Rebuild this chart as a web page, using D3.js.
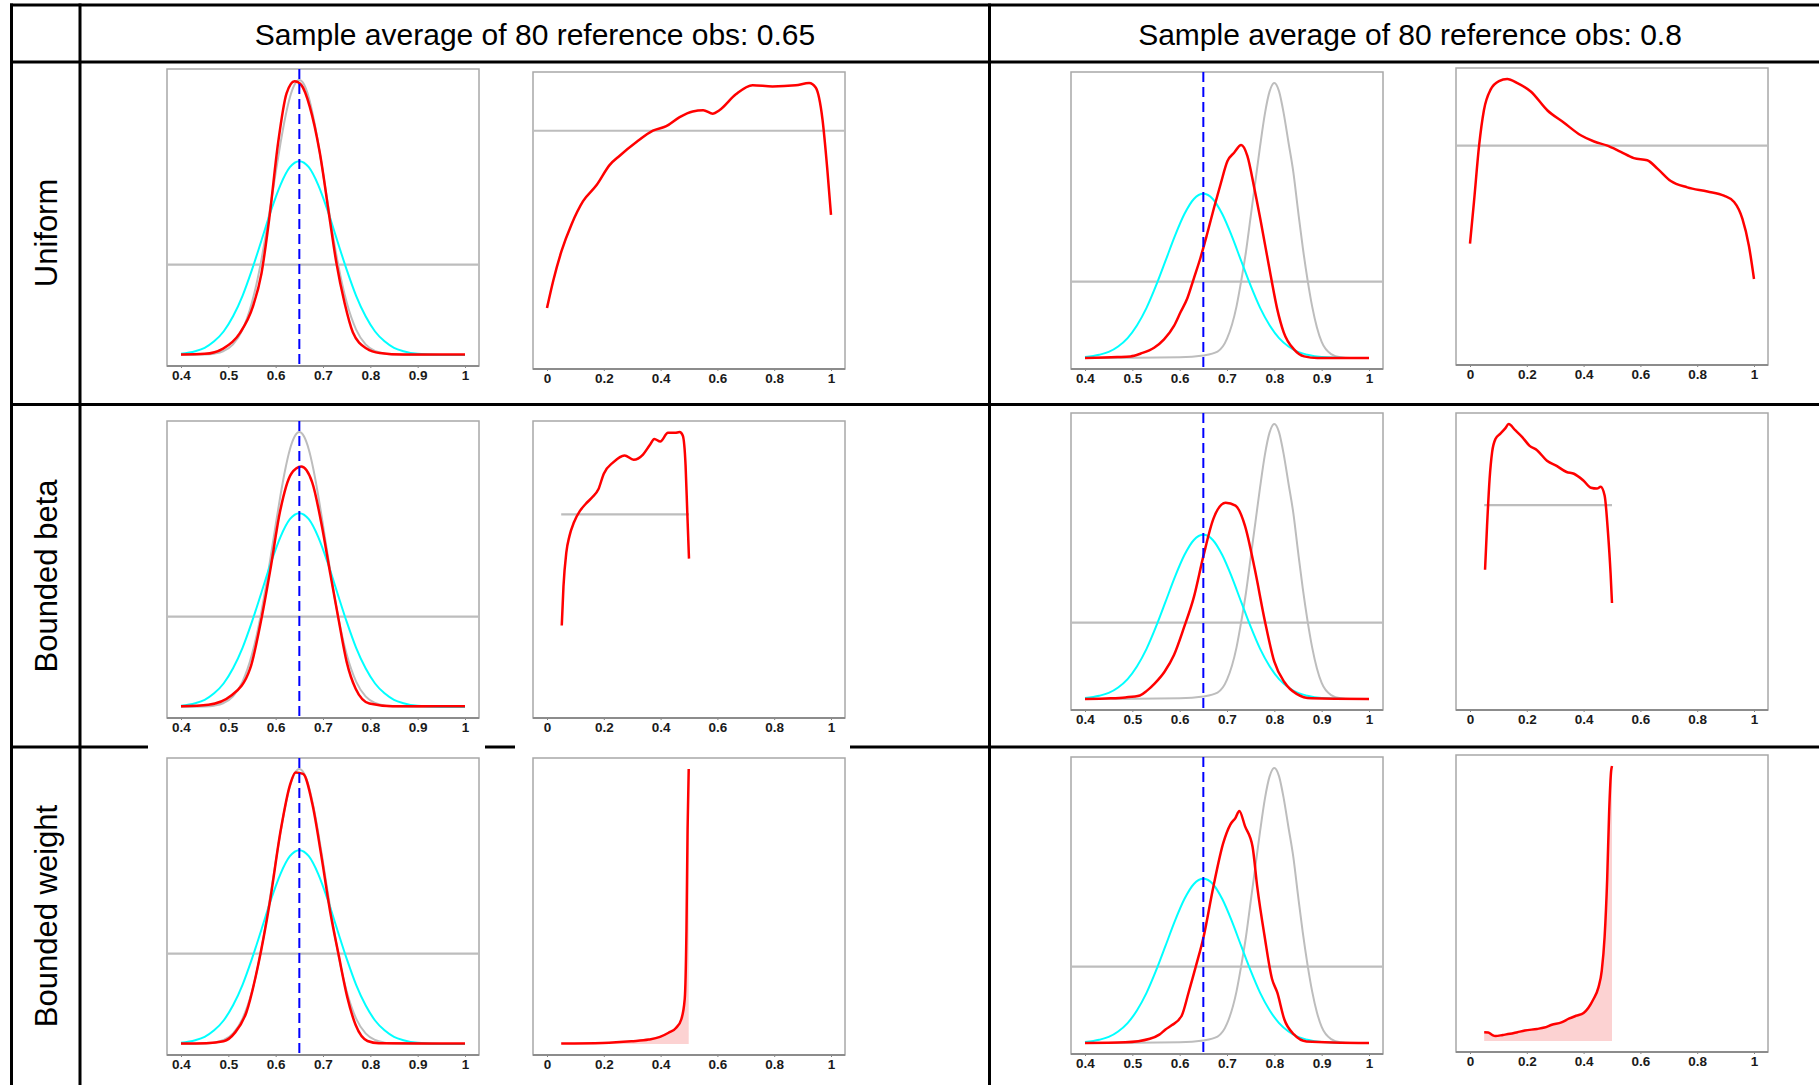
<!DOCTYPE html>
<html>
<head>
<meta charset="utf-8">
<style>
  body { margin: 0; background: #fff; }
  svg { display: block; font-family: 'Liberation Sans', Arial, sans-serif; }
  .axis text { font-weight: bold; font-size: 13.5px; fill: #1a1a1a; }
  .axis line { stroke: #808080; }
</style>
<script src="https://cdn.jsdelivr.net/npm/d3@7"></script>
</head>
<body>
<svg id="chart"></svg>
<script>
// ---- table text ----
const colHeaders = ['Sample average of 80 reference obs: 0.65', 'Sample average of 80 reference obs: 0.8'];
const rowLabels = ['Uniform', 'Bounded beta', 'Bounded weight'];

// ---- axis ticks ----
const meanTicks = [0.4, 0.5, 0.6, 0.7, 0.8, 0.9, 1];
const weightTicks = [0, 0.2, 0.4, 0.6, 0.8, 1];
const refObsMean = 0.65; // blue dashed line

// ---- reference curves shared across panels [x, density] ----
const cyanRef = [[0.40,0.03],[0.43,0.10],[0.45,0.19],[0.47,0.36],[0.49,0.62],[0.51,1.02],[0.53,1.56],[0.55,2.25],[0.57,3.02],[0.59,3.80],[0.61,4.48],[0.63,4.95],[0.65,5.11],[0.67,4.95],[0.69,4.48],[0.71,3.80],[0.73,3.02],[0.75,2.25],[0.77,1.56],[0.79,1.02],[0.81,0.62],[0.83,0.36],[0.85,0.19],[0.87,0.10],[0.90,0.03],[0.95,0.003],[1.0,0]];
const grayPrior65 = [[0.40,0],[0.45,0.01],[0.47,0.034],[0.49,0.105],[0.51,0.28],[0.53,0.67],[0.55,1.39],[0.56,1.90],[0.57,2.52],[0.58,3.23],[0.59,4.0],[0.60,4.80],[0.61,5.57],[0.62,6.25],[0.63,6.79],[0.64,7.13],[0.65,7.25],[0.66,7.13],[0.67,6.79],[0.68,6.25],[0.69,5.57],[0.70,4.80],[0.71,4.0],[0.72,3.23],[0.73,2.52],[0.74,1.90],[0.75,1.39],[0.77,0.67],[0.79,0.28],[0.81,0.105],[0.83,0.034],[0.85,0.01],[0.90,0],[1.0,0]];
const grayPrior80 = [[0.40,0],[0.60,0.02],[0.65,0.08],[0.68,0.2],[0.70,0.6],[0.72,1.6],[0.73,2.4],[0.74,3.3],[0.75,4.4],[0.76,5.5],[0.77,6.6],[0.78,7.6],[0.79,8.3],[0.80,8.56],[0.81,8.3],[0.82,7.6],[0.83,6.7],[0.84,5.8],[0.85,4.6],[0.86,3.45],[0.87,2.45],[0.88,1.6],[0.89,0.95],[0.90,0.5],[0.92,0.12],[0.94,0.02],[0.96,0],[1.0,0]];
const densityLevel = 2.38; // gray horizontal line in the mean panels

// ---- red posterior of the mean, per prior / sample average ----
const redUniform65 = [[0.40,0.01],[0.45,0.03],[0.489,0.17],[0.524,0.57],[0.552,1.28],[0.57,2.15],[0.587,3.65],[0.605,5.58],[0.623,6.9],[0.64,7.22],[0.654,7.12],[0.672,6.55],[0.693,5.35],[0.714,3.6],[0.728,2.45],[0.746,1.35],[0.763,0.6],[0.792,0.17],[0.82,0.05],[0.87,0.01],[1.0,0.01]];
const redUniform80 = [[0.40,0],[0.468,0.03],[0.496,0.05],[0.518,0.14],[0.546,0.32],[0.567,0.58],[0.588,1.0],[0.602,1.43],[0.616,1.85],[0.63,2.48],[0.644,3.12],[0.658,3.86],[0.673,4.7],[0.687,5.44],[0.701,6.13],[0.715,6.39],[0.73,6.63],[0.743,6.29],[0.757,5.34],[0.771,4.28],[0.792,2.59],[0.806,1.53],[0.82,0.79],[0.842,0.26],[0.863,0.05],[0.891,0],[1.0,0]];
const redBeta65 = [[0.40,0.02],[0.458,0.06],[0.507,0.31],[0.546,1.01],[0.57,2.33],[0.589,3.64],[0.609,5.14],[0.633,6.15],[0.654,6.34],[0.677,5.93],[0.696,4.88],[0.716,3.47],[0.732,2.37],[0.75,1.19],[0.769,0.48],[0.798,0.09],[0.847,0.02],[1.0,0.02]];
const redBeta80 = [[0.40,0],[0.454,0.02],[0.485,0.05],[0.516,0.11],[0.531,0.26],[0.547,0.48],[0.568,0.85],[0.588,1.37],[0.609,2.22],[0.63,3.17],[0.65,4.44],[0.671,5.6],[0.697,6.11],[0.718,6.02],[0.738,5.39],[0.759,4.02],[0.78,2.43],[0.8,1.16],[0.821,0.53],[0.847,0.16],[0.878,0.02],[1.0,0]];
const redWeight65 = [[0.40,0.01],[0.453,0.02],[0.49,0.07],[0.514,0.3],[0.538,0.83],[0.563,2.08],[0.587,3.69],[0.611,5.66],[0.63,6.82],[0.642,7.16],[0.658,7.12],[0.678,6.3],[0.696,5.0],[0.715,3.5],[0.733,2.35],[0.751,1.25],[0.769,0.5],[0.794,0.08],[0.818,0.02],[1.0,0.01]];
const redWeight80 = [[0.40,0],[0.485,0.02],[0.537,0.13],[0.557,0.26],[0.57,0.42],[0.583,0.55],[0.604,0.84],[0.619,1.58],[0.635,2.43],[0.65,3.27],[0.671,4.85],[0.692,6.22],[0.707,6.8],[0.718,7.01],[0.726,7.22],[0.738,6.75],[0.754,6.11],[0.764,4.85],[0.78,3.27],[0.795,2.0],[0.806,1.58],[0.821,0.74],[0.842,0.26],[0.868,0.05],[1.0,0]];

// ---- red density of the weight ----
const wUniform65 = [[0,0.22],[0.022,0.34],[0.051,0.47],[0.087,0.59],[0.127,0.69],[0.174,0.76],[0.221,0.85],[0.256,0.89],[0.315,0.95],[0.373,1.0],[0.42,1.02],[0.467,1.06],[0.513,1.085],[0.55,1.09],[0.584,1.075],[0.607,1.09],[0.665,1.16],[0.724,1.20],[0.794,1.195],[0.876,1.20],[0.923,1.21],[0.946,1.19],[0.97,1.05],[0.987,0.83],[1.0,0.63]];
const wUniform80 = [[0,0.53],[0.014,0.73],[0.032,1.0],[0.049,1.17],[0.073,1.27],[0.102,1.31],[0.131,1.32],[0.167,1.30],[0.214,1.26],[0.272,1.17],[0.331,1.11],[0.39,1.05],[0.437,1.02],[0.484,1.0],[0.531,0.97],[0.577,0.94],[0.624,0.93],[0.66,0.89],[0.707,0.83],[0.765,0.80],[0.836,0.78],[0.894,0.76],[0.93,0.73],[0.959,0.65],[0.982,0.52],[1.0,0.36]];
const wBeta65 = [[0.052,0.94],[0.058,1.39],[0.068,1.78],[0.079,1.97],[0.095,2.13],[0.116,2.26],[0.136,2.34],[0.16,2.42],[0.181,2.51],[0.2,2.69],[0.233,2.82],[0.273,2.9],[0.305,2.85],[0.338,2.91],[0.362,3.02],[0.378,3.09],[0.399,3.06],[0.426,3.16],[0.451,3.16],[0.467,3.17],[0.478,3.13],[0.488,2.78],[0.494,2.24],[0.5,1.71]];
const wBeta80 = [[0.053,1.48],[0.06,1.98],[0.069,2.52],[0.078,2.83],[0.09,2.98],[0.107,3.04],[0.124,3.10],[0.136,3.15],[0.159,3.08],[0.184,3.0],[0.21,2.9],[0.236,2.85],[0.271,2.73],[0.305,2.67],[0.34,2.6],[0.366,2.58],[0.4,2.5],[0.426,2.42],[0.447,2.41],[0.46,2.43],[0.474,2.33],[0.486,1.9],[0.495,1.44],[0.5,1.1]];
const wWeight65 = [[0.05,0.002],[0.196,0.004],[0.297,0.01],[0.358,0.016],[0.398,0.026],[0.428,0.041],[0.455,0.059],[0.473,0.09],[0.485,0.164],[0.491,0.41],[0.495,0.78],[0.499,1.0]];
const wWeight80 = [[0.05,0.032],[0.064,0.031],[0.078,0.022],[0.09,0.018],[0.116,0.022],[0.141,0.026],[0.167,0.032],[0.193,0.038],[0.236,0.044],[0.262,0.049],[0.288,0.059],[0.322,0.068],[0.348,0.081],[0.374,0.092],[0.4,0.102],[0.417,0.121],[0.434,0.151],[0.452,0.194],[0.464,0.256],[0.474,0.379],[0.483,0.588],[0.49,0.834],[0.497,0.982],[0.5,1.0]];
const uniformLevel = 1;        // prior density of the weight on [0, 1]
const betaLevel = 2.22;        // prior density on [0.05, 0.5]
const betaSpan = [0.05, 0.5];

// ---- panels ----
const panels = [
  { row: 0, col: 0, red: redUniform65, gray: grayPrior65, cyan: cyanRef, level: densityLevel },
  { row: 0, col: 1, red: wUniform65, level: uniformLevel },
  { row: 0, col: 2, red: redUniform80, gray: grayPrior80, cyan: cyanRef, level: densityLevel },
  { row: 0, col: 3, red: wUniform80, level: uniformLevel },
  { row: 1, col: 0, red: redBeta65, gray: grayPrior65, cyan: cyanRef, level: densityLevel },
  { row: 1, col: 1, red: wBeta65, level: betaLevel, span: betaSpan },
  { row: 1, col: 2, red: redBeta80, gray: grayPrior80, cyan: cyanRef, level: densityLevel },
  { row: 1, col: 3, red: wBeta80, level: betaLevel, span: betaSpan },
  { row: 2, col: 0, red: redWeight65, gray: grayPrior65, cyan: cyanRef, level: densityLevel },
  { row: 2, col: 1, red: wWeight65, fill: true },
  { row: 2, col: 2, red: redWeight80, gray: grayPrior80, cyan: cyanRef, level: densityLevel },
  { row: 2, col: 3, red: wWeight80, fill: true },
];

// ---- layout ----
const width = 1819, height = 1085;
const colLeft = [167, 533, 1071, 1456];
const rowTop = [[69, 72, 72, 68], [421, 421, 413, 413], [758, 758, 757, 755]];
const boxW = 312, boxH = 297, xPad = 14, yPad = 11;

const svg = d3.select('#chart').attr('width', width).attr('height', height);

// table rules
const rules = svg.append('g').attr('stroke', '#000').attr('stroke-width', 3);
const hRules = [
  { y: 5, segs: [[10, width]] },
  { y: 62, segs: [[10, width]] },
  { y: 404.5, segs: [[10, width]] },
  { y: 747, segs: [[10, 148], [485, 515], [850, width]] },
];
hRules.forEach((r) => {
  r.segs.forEach((s) => {
    rules.append('line').attr('x1', s[0]).attr('x2', s[1]).attr('y1', r.y).attr('y2', r.y);
  });
});
[11.5, 80, 989.5].forEach((x) => {
  rules.append('line').attr('x1', x).attr('x2', x).attr('y1', 3.5).attr('y2', height);
});

// column headers
const headerX = [535, 1410];
svg
  .selectAll('.col-header')
  .data(colHeaders)
  .enter()
  .append('text')
  .classed('col-header', true)
  .attr('x', (d, i) => headerX[i])
  .attr('y', 34)
  .attr('dominant-baseline', 'central')
  .attr('text-anchor', 'middle')
  .style('font-size', '30px')
  .text((d) => d);

// row labels (rotated)
const rowCenter = [233, 576, 916];
svg
  .selectAll('.row-label')
  .data(rowLabels)
  .enter()
  .append('text')
  .classed('row-label', true)
  .attr('transform', (d, i) => `translate(46, ${rowCenter[i]}) rotate(-90)`)
  .attr('dominant-baseline', 'central')
  .attr('text-anchor', 'middle')
  .style('font-size', '31px')
  .text((d) => d);

// draw each small plot
panels.forEach((p) => {
  const left = colLeft[p.col];
  const top = rowTop[p.row][p.col];
  const isMean = p.col % 2 === 0;

  const x = d3
    .scaleLinear()
    .domain(isMean ? [0.4, 1] : [0, 1])
    .range([left + xPad, left + boxW - xPad]);

  const series = [p.red, p.gray, p.cyan].filter(Boolean);
  const yMax = d3.max([...series.flat().map((d) => d[1]), p.level || 0]);
  const y = d3
    .scaleLinear()
    .domain([0, yMax])
    .range([top + boxH - yPad, top + yPad]);

  const g = svg.append('g').classed('panel', true);

  // plot box
  g.append('rect')
    .attr('x', left)
    .attr('y', top)
    .attr('width', boxW)
    .attr('height', boxH)
    .attr('fill', '#fff')
    .attr('stroke', '#a8a8a8')
    .attr('stroke-width', 1.5);

  // x axis
  const axis = g
    .append('g')
    .classed('axis', true)
    .attr('transform', `translate(0, ${top + boxH})`)
    .call(
      d3
        .axisBottom(x)
        .tickValues(isMean ? meanTicks : weightTicks)
        .tickFormat(d3.format('~g'))
        .tickSize(2)
        .tickPadding(2)
    );
  axis.select('.domain').remove();
  g.append('line')
    .attr('x1', left)
    .attr('x2', left + boxW)
    .attr('y1', top + boxH)
    .attr('y2', top + boxH)
    .attr('stroke', '#8c8c8c')
    .attr('stroke-width', 2);

  const line = d3
    .line()
    .x((d) => x(d[0]))
    .y((d) => y(d[1]))
    .curve(d3.curveMonotoneX);

  // shaded area under the weight density
  if (p.fill) {
    const area = d3
      .area()
      .x((d) => x(d[0]))
      .y0(y(0))
      .y1((d) => y(d[1]))
      .curve(d3.curveMonotoneX);
    g.append('path').attr('d', area(p.red)).attr('fill', '#fcd2d2');
  }

  // gray horizontal prior level
  if (p.level !== undefined) {
    const x1 = p.span ? x(p.span[0]) : left;
    const x2 = p.span ? x(p.span[1]) : left + boxW;
    g.append('line')
      .attr('x1', x1)
      .attr('x2', x2)
      .attr('y1', y(p.level))
      .attr('y2', y(p.level))
      .attr('stroke', '#bdbdbd')
      .attr('stroke-width', 2.2);
  }

  if (p.gray) {
    g.append('path')
      .attr('d', line(p.gray))
      .attr('fill', 'none')
      .attr('stroke', '#bdbdbd')
      .attr('stroke-width', 2);
  }
  if (p.cyan) {
    g.append('path')
      .attr('d', line(p.cyan))
      .attr('fill', 'none')
      .attr('stroke', '#00ffff')
      .attr('stroke-width', 2);
  }
  g.append('path')
    .attr('d', line(p.red))
    .attr('fill', 'none')
    .attr('stroke', '#ff0000')
    .attr('stroke-width', 2.5);

  // blue dashed reference line
  if (isMean) {
    g.append('line')
      .attr('x1', x(refObsMean))
      .attr('x2', x(refObsMean))
      .attr('y1', top)
      .attr('y2', top + boxH)
      .attr('stroke', '#0000ff')
      .attr('stroke-width', 2)
      .attr('stroke-dasharray', '10,5');
  }
});
</script>
</body>
</html>
